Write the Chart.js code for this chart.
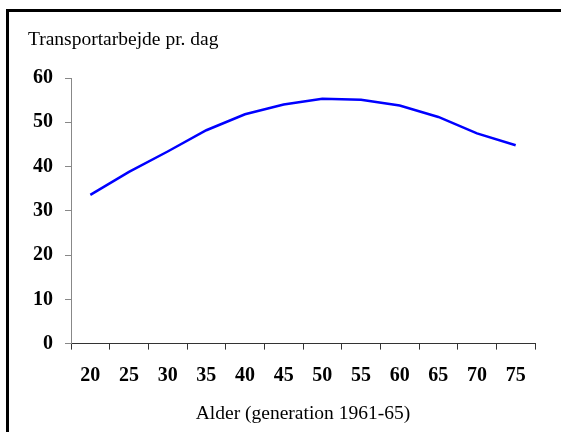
<!DOCTYPE html>
<html>
<head>
<meta charset="utf-8">
<script src="https://cdn.jsdelivr.net/npm/chart.js@4"></script>
<style>
  html, body { margin: 0; padding: 0; background: #fff; overflow: hidden; }
  #frame {
    position: absolute; left: 6px; top: 9px;
    width: 700px; height: 600px;
    border: 3px solid #000;
  }
  #wrap { position: absolute; left: 0; top: 0; width: 561px; height: 432px; }
</style>
</head>
<body>
<div id="frame"></div>
<div id="wrap"><canvas id="myChart" width="561" height="432"></canvas></div>
<script>
// ages (x categories)
const ages = ["20", "25", "30", "35", "40", "45", "50", "55", "60", "65", "70", "75"];
// transport work per day
const transport = [33.6, 38.8, 43.4, 48.2, 51.8, 54.0, 55.3, 55.1, 53.8, 51.2, 47.5, 44.8];
const yTicks = [0, 10, 20, 30, 40, 50, 60];

const serif = "'Liberation Serif', 'Times New Roman', serif";

const data = {
  labels: ages,
  datasets: [{
    label: "Transportarbejde",
    data: transport,
    borderColor: "#0000ff",
    backgroundColor: "#0000ff",
    borderWidth: 2.5,
    pointRadius: 0,
    tension: 0,
    fill: false,
  }],
};

const config = {
  type: "line",
  data: data,
  options: {
    responsive: false,
    animation: false,
    layout: { padding: { left: 28, right: 26, top: 0, bottom: 6 } },
    plugins: {
      legend: { display: false },
      tooltip: { enabled: false },
      title: {
        display: true,
        text: "Transportarbejde pr. dag",
        align: "start",
        color: "#000",
        font: { family: serif, size: 19.5, weight: "normal" },
        padding: { top: 28, bottom: 26.6 },
      },
    },
    scales: {
      x: {
        type: "category",
        offset: true,
        grid: { display: true, offset: true, drawOnChartArea: false, drawTicks: true, tickLength: 6, color: "#333" },
        border: { display: true, color: "#333", width: 1 },
        ticks: {
          color: "#000",
          padding: 14,
          maxRotation: 0,
          font: { family: serif, size: 20, weight: "bold" },
        },
        title: {
          display: true,
          text: "Alder (generation 1961-65)",
          color: "#000",
          font: { family: serif, size: 19.5, weight: "normal" },
          padding: { top: 1, bottom: 0 },
        },
      },
      y: {
        min: 0,
        max: 60,
        afterBuildTicks: (scale) => { scale.ticks = yTicks.map((v) => ({ value: v })); },
        afterFit: (scale) => { scale.width = 43; },
        grid: { display: true, drawOnChartArea: false, drawTicks: true, tickLength: 6, color: "#888" },
        border: { display: true, color: "#888", width: 1 },
        ticks: {
          color: "#000",
          padding: 12,
          font: { family: serif, size: 20, weight: "bold" },
        },
      },
    },
  },
};

const myChart = new Chart(document.getElementById("myChart"), config);
</script>
</body>
</html>
